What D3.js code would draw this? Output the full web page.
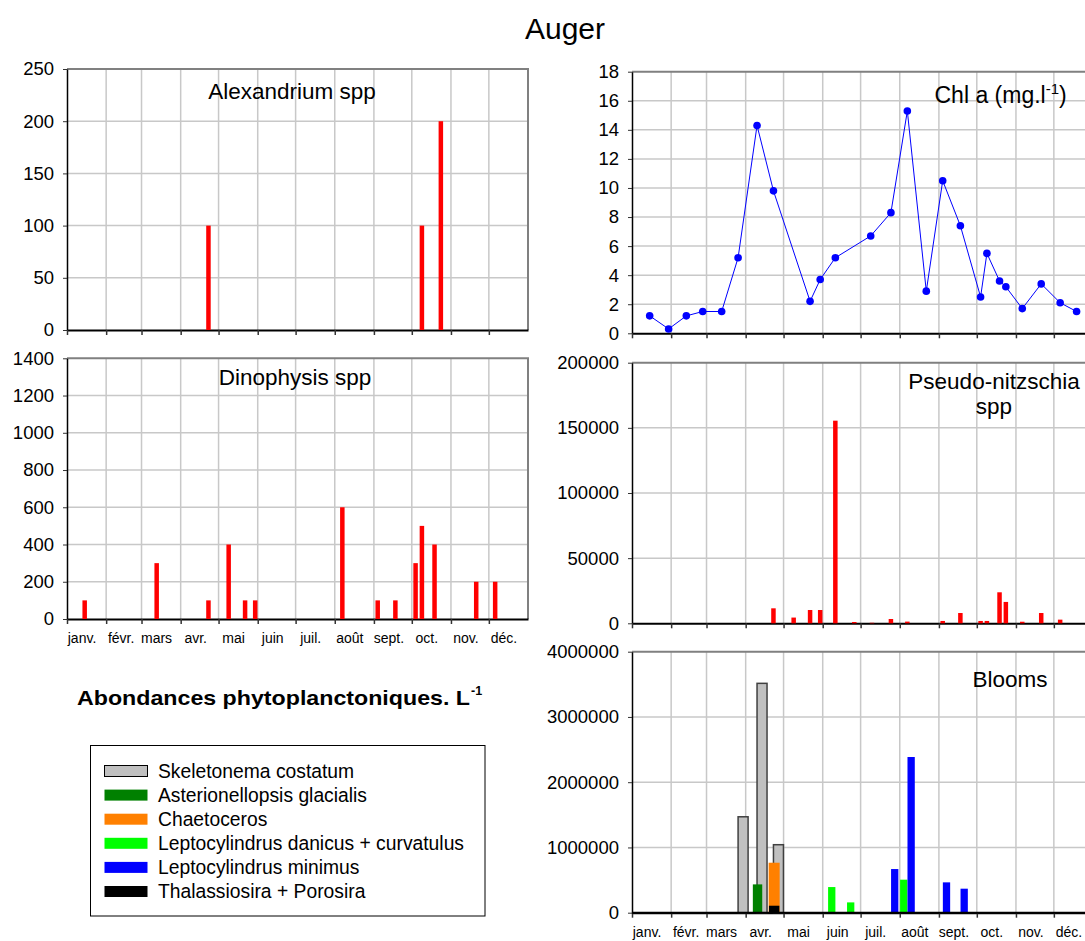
<!DOCTYPE html>
<html>
<head>
<meta charset="utf-8">
<script src="https://cdn.jsdelivr.net/npm/d3@7"></script>
<style>
  html, body { margin: 0; padding: 0; background: #fff; }
  svg { display: block; font-family: "Liberation Sans", Arial, sans-serif; }
</style>
</head>
<body>
<svg id="chart" width="1085" height="941"></svg>
<script>
// ---- Data -------------------------------------------------------------
const monthLabels = ["janv.", "févr.", "mars", "avr.", "mai", "juin",
                     "juil.", "août", "sept.", "oct.", "nov.", "déc."];
const year = 2007;

// Alexandrium spp (cells per litre)
const alexandriumDates  = ["2007-04-23", "2007-10-09", "2007-10-24"];
const alexandriumValues = [100, 100, 200];
const alexandriumTicks  = [0, 50, 100, 150, 200, 250];

// Dinophysis spp (cells per litre)
const dinophysisDates  = ["2007-01-15", "2007-03-13", "2007-04-23", "2007-05-09", "2007-05-22",
                          "2007-05-30", "2007-08-07", "2007-09-04", "2007-09-18", "2007-10-04",
                          "2007-10-09", "2007-10-19", "2007-11-21", "2007-12-06"];
const dinophysisValues = [100, 300, 100, 400, 100, 100, 600, 100, 100, 300, 500, 400, 200, 200];
const dinophysisTicks  = [0, 200, 400, 600, 800, 1000, 1200, 1400];

// Chlorophyll a (mg/l)
const chlDates  = ["2007-01-15", "2007-01-30", "2007-02-13", "2007-02-26", "2007-03-13",
                   "2007-03-26", "2007-04-10", "2007-04-23", "2007-05-22", "2007-05-30",
                   "2007-06-11", "2007-07-09", "2007-07-25", "2007-08-07", "2007-08-22",
                   "2007-09-04", "2007-09-18", "2007-10-04", "2007-10-09", "2007-10-19",
                   "2007-10-24", "2007-11-06", "2007-11-21", "2007-12-06", "2007-12-19"];
const chlValues = [1.2, 0.3, 1.2, 1.5, 1.5, 5.2, 14.3, 9.8, 2.2, 3.7, 5.2, 6.7, 8.3, 15.3, 2.9,
                   10.5, 7.4, 2.5, 5.5, 3.6, 3.2, 1.7, 3.4, 2.1, 1.5];
const chlTicks  = [0, 2, 4, 6, 8, 10, 12, 14, 16, 18];

// Pseudo-nitzschia spp (cells per litre)
const pseudoNitzschiaDates  = ["2007-04-23", "2007-05-09", "2007-05-22", "2007-05-30", "2007-06-11",
                               "2007-06-26", "2007-07-10", "2007-07-25", "2007-08-07", "2007-09-04",
                               "2007-09-18", "2007-10-04", "2007-10-09", "2007-10-19", "2007-10-24",
                               "2007-11-06", "2007-11-21", "2007-12-06"];
const pseudoNitzschiaValues = [11500, 4400, 10200, 10200, 155500, 1000, 400, 3300, 1300, 1800,
                               7900, 1800, 1800, 23800, 16400, 1200, 7900, 2800];
const pseudoNitzschiaTicks  = [0, 50000, 100000, 150000, 200000];

// Blooms (cells per litre), one pair of arrays per taxon
const bloomNames = ["Skeletonema costatum", "Asterionellopsis glacialis", "Chaetoceros",
                    "Leptocylindrus danicus + curvatulus", "Leptocylindrus minimus",
                    "Thalassiosira + Porosira"];
const skeletonemaDates      = ["2007-03-26", "2007-04-10", "2007-04-23"];
const skeletonemaValues     = [1470000, 3515000, 1042000];
const asterionellopsisDates = ["2007-04-10"];
const asterionellopsisValues= [434000];
const chaetocerosDates      = ["2007-04-23"];
const chaetocerosValues     = [766000];
const leptoDanicusDates     = ["2007-06-11", "2007-06-26", "2007-08-07"];
const leptoDanicusValues    = [393000, 158000, 506000];
const leptoMinimusDates     = ["2007-07-25", "2007-08-07", "2007-09-04", "2007-09-18"];
const leptoMinimusValues    = [669000, 2386000, 465000, 368000];
const thalassiosiraDates    = ["2007-04-23"];
const thalassiosiraValues   = [107000];
const bloomTicks = [0, 1000000, 2000000, 3000000, 4000000];

// ---- Helpers ----------------------------------------------------------
const parse = d3.timeParse("%Y-%m-%d");
const zip = (dates, values) => dates.map((d, i) => ({ date: parse(d), value: values[i] }));

const svg = d3.select("#chart");
const yearStart = new Date(year, 0, 1);
const yearEnd = new Date(year + 1, 0, 1);
const PLOT_W = 461;
const GRID = "#c8c8c8";
const FONT = "Liberation Sans, Arial, sans-serif";

function makeX(x0) {
  return d3.scaleTime().domain([yearStart, yearEnd]).range([x0, x0 + PLOT_W]);
}

function frame(x, y, ticks, withLabels) {
  const [x0, x1] = x.range();
  const [yb, yt] = y.range();
  const g = svg.append("g");

  // horizontal grid
  g.append("g").selectAll("line")
    .data(ticks.filter(t => t > 0 && t < ticks[ticks.length - 1]))
    .join("line")
    .attr("x1", x0).attr("x2", x1)
    .attr("y1", d => y(d)).attr("y2", d => y(d))
    .attr("stroke", GRID).attr("stroke-width", 1.5);

  // vertical grid at each month start
  const monthStarts = d3.timeMonth.range(yearStart, yearEnd);
  g.append("g").selectAll("line")
    .data(monthStarts.slice(1))
    .join("line")
    .attr("x1", d => x(d)).attr("x2", d => x(d))
    .attr("y1", yt).attr("y2", yb)
    .attr("stroke", GRID).attr("stroke-width", 1.5);

  // plot border (top and right)
  g.append("path")
    .attr("d", `M${x0},${yt}H${x1}V${yb}`)
    .attr("fill", "none").attr("stroke", "#808080").attr("stroke-width", 2);

  // y axis
  const ya = g.append("g")
    .attr("transform", `translate(${x0},0)`)
    .call(d3.axisLeft(y).tickValues(ticks).tickSize(4).tickSizeOuter(0)
      .tickPadding(9).tickFormat(d3.format("d")));
  ya.select(".domain").attr("stroke", "#000").attr("stroke-width", 1.5);
  ya.selectAll(".tick line").attr("stroke", "#333").attr("stroke-width", 1);
  ya.selectAll("text").attr("font-size", 18.5).attr("fill", "#000").attr("font-family", FONT);

  // x axis with month ticks
  const xa = g.append("g")
    .attr("transform", `translate(0,${yb})`)
    .call(d3.axisBottom(x).tickValues(monthStarts).tickSize(5).tickSizeOuter(0).tickFormat(""));
  xa.select(".domain").attr("stroke", "#000").attr("stroke-width", 2);
  xa.selectAll(".tick line").attr("stroke", "#333").attr("stroke-width", 1.5);

  if (withLabels) {
    const labelPos = monthStarts.map(d => d3.timeHour.offset(d, 276));
    const xl = g.append("g")
      .attr("transform", `translate(0,${yb})`)
      .call(d3.axisBottom(x).tickValues(labelPos).tickSize(0).tickPadding(14.5)
        .tickFormat(d => monthLabels[d.getMonth()]));
    xl.select(".domain").remove();
    xl.selectAll("text").attr("font-size", 14).attr("fill", "#000").attr("font-family", FONT);
  }
  return g;
}

function redBars(x, y, data) {
  svg.append("g").selectAll("rect")
    .data(data)
    .join("rect")
    .attr("x", d => x(d.date) - 2.25)
    .attr("width", 4.5)
    .attr("y", d => y(d.value))
    .attr("height", d => y(0) - y(d.value))
    .attr("fill", "#ff0000");
}

function panelTitle(text, cx, baseline) {
  svg.append("text").attr("x", cx).attr("y", baseline)
    .attr("text-anchor", "middle").attr("font-size", 22.5).attr("fill", "#000")
    .text(text);
}

// ---- Main title -------------------------------------------------------
svg.append("text").attr("x", 565).attr("y", 39).attr("text-anchor", "middle")
  .attr("font-size", 30).attr("fill", "#000").text("Auger");

// ---- Alexandrium ------------------------------------------------------
{
  const x = makeX(67);
  const y = d3.scaleLinear().domain([0, 250]).range([330, 69]);
  frame(x, y, alexandriumTicks, false);
  redBars(x, y, zip(alexandriumDates, alexandriumValues));
  panelTitle("Alexandrium spp", 292, 99);
}

// ---- Dinophysis -------------------------------------------------------
{
  const x = makeX(67);
  const y = d3.scaleLinear().domain([0, 1400]).range([619, 358.3]);
  frame(x, y, dinophysisTicks, true);
  redBars(x, y, zip(dinophysisDates, dinophysisValues));
  panelTitle("Dinophysis spp", 295, 385);
}

// ---- Chlorophyll a ----------------------------------------------------
{
  const x = makeX(632);
  const y = d3.scaleLinear().domain([0, 18]).range([333.3, 71.7]);
  frame(x, y, chlTicks, false);
  const pts = zip(chlDates, chlValues);
  svg.append("path").datum(pts)
    .attr("d", d3.line().x(d => x(d.date)).y(d => y(d.value)))
    .attr("fill", "none").attr("stroke", "#0000ff").attr("stroke-width", 1);
  svg.append("g").selectAll("circle").data(pts).join("circle")
    .attr("cx", d => x(d.date)).attr("cy", d => y(d.value)).attr("r", 3.8)
    .attr("fill", "#0000ff");
  const t = svg.append("text").attr("x", 934.5).attr("y", 103.3)
    .attr("font-size", 23).attr("fill", "#000");
  t.append("tspan").text("Chl a (mg.l");
  t.append("tspan").attr("font-size", 15).attr("dy", -9).text("-1");
  t.append("tspan").attr("dy", 9).text(")");
}

// ---- Pseudo-nitzschia -------------------------------------------------
{
  const x = makeX(632);
  const y = d3.scaleLinear().domain([0, 200000]).range([623.3, 362.7]);
  frame(x, y, pseudoNitzschiaTicks, false);
  redBars(x, y, zip(pseudoNitzschiaDates, pseudoNitzschiaValues));
  panelTitle("Pseudo-nitzschia", 994, 389);
  panelTitle("spp", 994, 414);
}

// ---- Blooms -----------------------------------------------------------
const bloomStyles = [
  { fill: "#c0c0c0", stroke: "#404040", dx: 5,    w: 10 },  // Skeletonema
  { fill: "#008000", stroke: "none",    dx: 0.5,  w: 9.4 }, // Asterionellopsis
  { fill: "#ff8000", stroke: "none",    dx: 0.7,  w: 11 },  // Chaetoceros
  { fill: "#00ff00", stroke: "none",    dx: -3.6, w: 7.3 }, // L. danicus + curvatulus
  { fill: "#0000ff", stroke: "none",    dx: 3.8,  w: 7.3 }, // L. minimus
  { fill: "#000000", stroke: "none",    dx: 0.7,  w: 10.4 } // Thalassiosira + Porosira
];
const bloomData = [
  zip(skeletonemaDates, skeletonemaValues),
  zip(asterionellopsisDates, asterionellopsisValues),
  zip(chaetocerosDates, chaetocerosValues),
  zip(leptoDanicusDates, leptoDanicusValues),
  zip(leptoMinimusDates, leptoMinimusValues),
  zip(thalassiosiraDates, thalassiosiraValues)
];
{
  const x = makeX(632);
  const y = d3.scaleLinear().domain([0, 4000000]).range([912.7, 651.7]);
  frame(x, y, bloomTicks, true);
  // grey Skeletonema behind, then the others; Thalassiosira drawn over Chaetoceros
  const drawOrder = [0, 1, 2, 5, 3, 4];
  drawOrder.forEach(si => {
    const s = bloomStyles[si];
    svg.append("g").selectAll("rect").data(bloomData[si]).join("rect")
      .attr("x", d => x(d.date) + s.dx - s.w / 2)
      .attr("width", s.w)
      .attr("y", d => y(d.value))
      .attr("height", d => y(0) - y(d.value))
      .attr("fill", s.fill)
      .attr("stroke", s.stroke)
      .attr("stroke-width", s.stroke === "none" ? 0 : 1.5);
  });
  panelTitle("Blooms", 1010, 687.3);
  // redraw the baseline over the bars
  svg.append("line").attr("x1", x.range()[0]).attr("x2", x.range()[1])
    .attr("y1", y(0)).attr("y2", y(0)).attr("stroke", "#000").attr("stroke-width", 2);
}

// ---- Legend -----------------------------------------------------------
{
  svg.append("text").attr("x", 77).attr("y", 705)
    .attr("font-size", 21).attr("font-weight", "bold").attr("fill", "#000")
    .attr("textLength", 393).attr("lengthAdjust", "spacingAndGlyphs")
    .text("Abondances phytoplanctoniques. L");
  svg.append("text").attr("x", 471).attr("y", 695)
    .attr("font-size", 12.5).attr("font-weight", "bold").attr("fill", "#000")
    .text("-1");

  svg.append("rect").attr("x", 90.5).attr("y", 745.5).attr("width", 394.5).attr("height", 170.5)
    .attr("fill", "#fff").attr("stroke", "#000").attr("stroke-width", 1);

  const items = svg.append("g").selectAll("g").data(bloomNames).join("g")
    .attr("transform", (d, i) => `translate(0,${771 + i * 24.1})`);
  items.append("rect")
    .attr("x", 104.5).attr("y", -5.5).attr("width", 43).attr("height", 11)
    .attr("fill", (d, i) => bloomStyles[i].fill)
    .attr("stroke", (d, i) => i === 0 ? "#000" : "none");
  items.append("text")
    .attr("x", 158).attr("y", 6.8).attr("font-size", 19.3).attr("fill", "#000")
    .text(d => d);
}
</script>
</body>
</html>
